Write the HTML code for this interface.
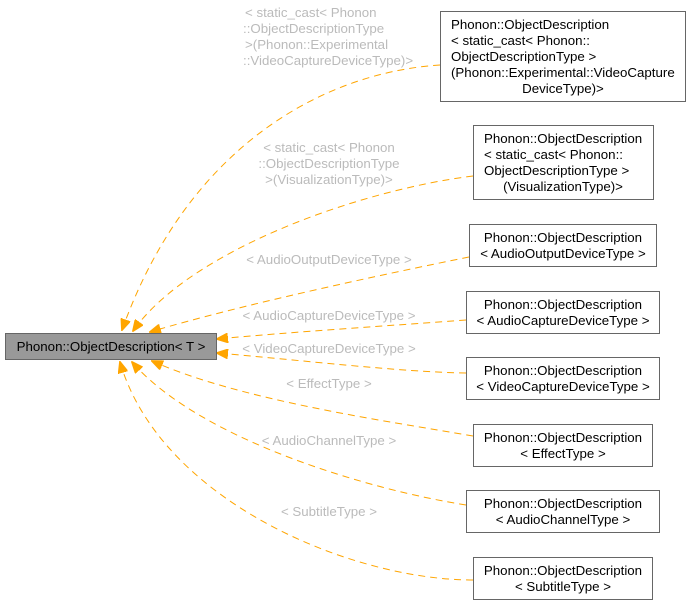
<!DOCTYPE html>
<html><head><meta charset="utf-8"><style>
html,body{margin:0;padding:0;background:#fff;}
svg{display:block;font-family:"Liberation Sans",Helvetica,sans-serif;font-size:13.3px;}
.n{fill:#fff;stroke:#666;stroke-width:1;}
.t{fill:#000;}
.l{fill:#bbb;}
.e{fill:none;stroke:#ffa500;stroke-width:1;stroke-dasharray:7,5;}
</style></head><body>
<svg width="691" height="605" viewBox="0 0 691 605">
<defs><marker id="a" markerWidth="12" markerHeight="10" refX="11" refY="5" orient="auto" markerUnits="userSpaceOnUse"><path d="M0,0 L12,5 L0,10 z" fill="#ffa500" stroke="#ffa500"/></marker></defs>

<path class="e" marker-end="url(#a)" d="M440,65 C 330,72 190,140 122,330"/>
<path class="e" marker-end="url(#a)" d="M473,176 C 360,190 190,250 133,331"/>
<path class="e" marker-end="url(#a)" d="M469,257 C 380,275 240,305 150,332"/>
<path class="e" marker-end="url(#a)" d="M466,320 C 400,325 290,332 217,339"/>
<path class="e" marker-end="url(#a)" d="M466,373 C 400,372 300,360 217,353"/>
<path class="e" marker-end="url(#a)" d="M473,436 C 380,420 240,400 152,361"/>
<path class="e" marker-end="url(#a)" d="M466,505 C 370,490 200,440 132,362"/>
<path class="e" marker-end="url(#a)" d="M473,580 C 350,580 160,500 120,362"/>

<rect x="5.5" y="333.5" width="211" height="26" fill="#999" stroke="#666"/>
<text class="t" x="111" y="351" text-anchor="middle">Phonon::ObjectDescription&lt; T &gt;</text>

<rect class="n" x="440.5" y="11.5" width="245" height="90"/>
<text class="t" x="451" y="29">Phonon::ObjectDescription</text>
<text class="t" x="451" y="45">&lt; static_cast&lt; Phonon::</text>
<text class="t" x="451" y="61">ObjectDescriptionType &gt;</text>
<text class="t" x="451" y="77">(Phonon::Experimental::VideoCapture</text>
<text class="t" x="563" y="93" text-anchor="middle">DeviceType)&gt;</text>

<rect class="n" x="473.5" y="125.5" width="180" height="74"/>
<text class="t" x="484" y="143">Phonon::ObjectDescription</text>
<text class="t" x="484" y="159">&lt; static_cast&lt; Phonon::</text>
<text class="t" x="484" y="175">ObjectDescriptionType &gt;</text>
<text class="t" x="563" y="191" text-anchor="middle">(VisualizationType)&gt;</text>

<rect class="n" x="469.5" y="224.5" width="187" height="42"/>
<text class="t" x="563" y="242" text-anchor="middle">Phonon::ObjectDescription</text>
<text class="t" x="563" y="258" text-anchor="middle">&lt; AudioOutputDeviceType &gt;</text>

<rect class="n" x="466.5" y="291.5" width="193" height="42"/>
<text class="t" x="563" y="309" text-anchor="middle">Phonon::ObjectDescription</text>
<text class="t" x="563" y="325" text-anchor="middle">&lt; AudioCaptureDeviceType &gt;</text>

<rect class="n" x="466.5" y="357.5" width="193" height="42"/>
<text class="t" x="563" y="375" text-anchor="middle">Phonon::ObjectDescription</text>
<text class="t" x="563" y="391" text-anchor="middle">&lt; VideoCaptureDeviceType &gt;</text>

<rect class="n" x="473.5" y="424.5" width="179" height="42"/>
<text class="t" x="563" y="442" text-anchor="middle">Phonon::ObjectDescription</text>
<text class="t" x="563" y="458" text-anchor="middle">&lt; EffectType &gt;</text>

<rect class="n" x="466.5" y="490.5" width="193" height="42"/>
<text class="t" x="563" y="508" text-anchor="middle">Phonon::ObjectDescription</text>
<text class="t" x="563" y="524" text-anchor="middle">&lt; AudioChannelType &gt;</text>

<rect class="n" x="473.5" y="557.5" width="179" height="42"/>
<text class="t" x="563" y="575" text-anchor="middle">Phonon::ObjectDescription</text>
<text class="t" x="563" y="591" text-anchor="middle">&lt; SubtitleType &gt;</text>

<text class="l" x="245" y="17">&lt; static_cast&lt; Phonon</text>
<text class="l" x="243" y="33">::ObjectDescriptionType</text>
<text class="l" x="245" y="49">&gt;(Phonon::Experimental</text>
<text class="l" x="243" y="65">::VideoCaptureDeviceType)&gt;</text>

<text class="l" x="329" y="152" text-anchor="middle">&lt; static_cast&lt; Phonon</text>
<text class="l" x="329" y="168" text-anchor="middle">::ObjectDescriptionType</text>
<text class="l" x="329" y="184" text-anchor="middle">&gt;(VisualizationType)&gt;</text>

<text class="l" x="329" y="264" text-anchor="middle">&lt; AudioOutputDeviceType &gt;</text>
<text class="l" x="329" y="320" text-anchor="middle">&lt; AudioCaptureDeviceType &gt;</text>
<text class="l" x="329" y="353" text-anchor="middle">&lt; VideoCaptureDeviceType &gt;</text>
<text class="l" x="329" y="388" text-anchor="middle">&lt; EffectType &gt;</text>
<text class="l" x="329" y="445" text-anchor="middle">&lt; AudioChannelType &gt;</text>
<text class="l" x="329" y="516" text-anchor="middle">&lt; SubtitleType &gt;</text>
</svg>
</body></html>
